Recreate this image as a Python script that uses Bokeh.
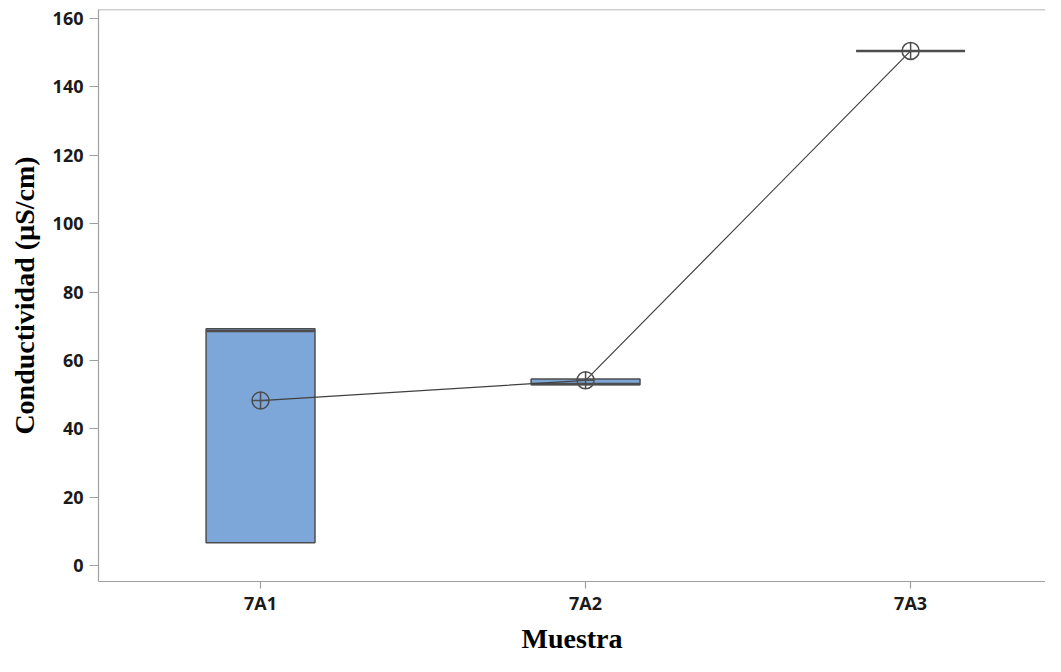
from bokeh.plotting import figure
from bokeh.models import Range1d, FixedTicker, Span, ColumnDataSource
from bokeh.embed import file_html
from bokeh.resources import INLINE

categories = ["7A1", "7A2", "7A3"]
positions = [1, 2, 3]
q1 = [6.7, 52.9, 150.5]
median = [68.6, 53.1, 150.5]
q3 = [69.3, 54.6, 150.5]
mean = [48.3, 54.2, 150.5]
y_ticks = [0, 20, 40, 60, 80, 100, 120, 140, 160]

AXIS_GRAY = "#a0a0a0"
DARK = "#4d4d4d"
BOX_FILL = "#7da7d8"

src = ColumnDataSource(dict(x=positions, q1=q1, q3=q3, med=median, mean=mean))

p = figure(width=1045, height=656, output_backend="svg", toolbar_location=None,
           x_range=Range1d(0.5015, 3.415), y_range=Range1d(-4.6, 162.6),
           min_border_left=98, min_border_top=9, min_border_right=0, min_border_bottom=60)
p.outline_line_color = None
p.xgrid.visible = False
p.ygrid.visible = False
p.background_fill_color = "white"
p.border_fill_color = "white"

p.add_layout(Span(location=162.55, dimension="width", line_color=AXIS_GRAY, line_width=1.2))

p.vbar(x="x", width=0.335, bottom="q1", top="q3", source=src,
       fill_color=BOX_FILL, line_color=DARK, line_width=1.5)
p.vbar(x="x", width=0.335, bottom="med", top="med", source=src,
       fill_color=None, line_color=DARK, line_width=2.5)
p.line(x="x", y="mean", source=src, line_color="#404040", line_width=1.2)
p.scatter(x="x", y="mean", source=src, marker="circle_cross", size=17,
          fill_color=None, line_color=DARK, line_width=1.5)

for ax in (p.xaxis[0], p.yaxis[0]):
    ax.axis_line_color = AXIS_GRAY
    ax.axis_line_width = 1.2
    ax.major_tick_line_color = AXIS_GRAY
    ax.major_tick_line_width = 1.2
    ax.minor_tick_line_color = None
    ax.major_tick_in = 0
    ax.major_label_text_font = "Open Sans"
    ax.major_label_text_font_style = "bold"
    ax.major_label_text_font_size = "18px"
    ax.major_label_text_color = "#1a1a1a"
    ax.axis_label_text_font = "Liberation Serif"
    ax.axis_label_text_font_style = "bold"
    ax.axis_label_text_font_size = "28px"
    ax.axis_label_text_color = "black"

p.xaxis.ticker = FixedTicker(ticks=positions)
p.xaxis.major_label_overrides = {pos: cat for pos, cat in zip(positions, categories)}
p.xaxis.major_tick_out = 7
p.xaxis.major_label_standoff = 2
p.xaxis.axis_label = "Muestra"
p.xaxis.axis_label_standoff = 5

p.yaxis.ticker = FixedTicker(ticks=y_ticks)
p.yaxis.major_tick_out = 9
p.yaxis.major_label_standoff = 6
p.yaxis.axis_label = "Conductividad (µS/cm)"
p.yaxis.axis_label_standoff = 10

open("out.html", "w").write(file_html(p, INLINE))
